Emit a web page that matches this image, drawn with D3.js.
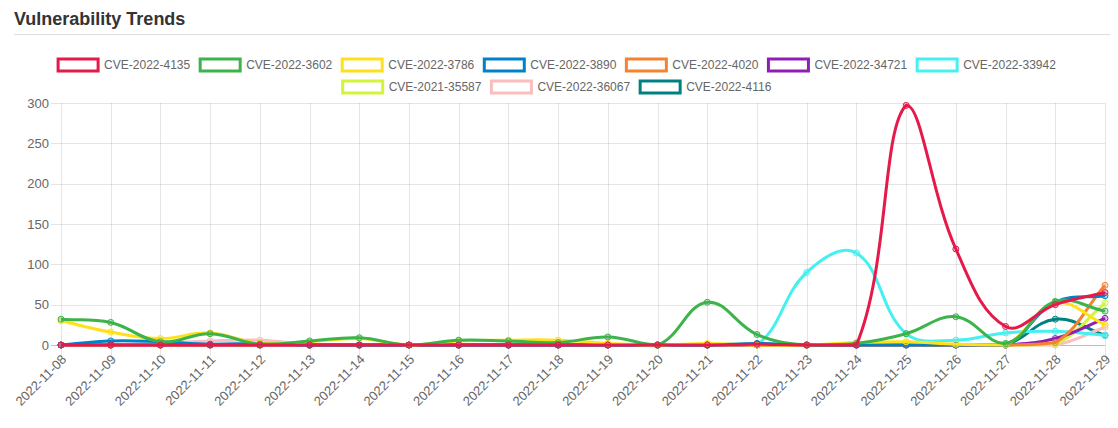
<!DOCTYPE html>
<html>
<head>
<meta charset="utf-8">
<script src="https://cdn.jsdelivr.net/npm/d3@7"></script>
<style>
  body { margin: 0; background: #fff; font-family: "Liberation Sans", Arial, Helvetica, sans-serif; }
</style>
</head>
<body>
<svg id="chart" width="1118" height="428"></svg>
<script>
const dates = ["2022-11-08","2022-11-09","2022-11-10","2022-11-11","2022-11-12","2022-11-13","2022-11-14",
  "2022-11-15","2022-11-16","2022-11-17","2022-11-18","2022-11-19","2022-11-20","2022-11-21",
  "2022-11-22","2022-11-23","2022-11-24","2022-11-25","2022-11-26","2022-11-27","2022-11-28","2022-11-29"];

const cveNames = ["CVE-2022-4135","CVE-2022-3602","CVE-2022-3786","CVE-2022-3890","CVE-2022-4020",
  "CVE-2022-34721","CVE-2022-33942","CVE-2021-35587","CVE-2022-36067","CVE-2022-4116"];

const cveColors = ["#e6194b","#3cb44b","#ffe119","#0082c8","#f58231","#911eb4","#46f0f0","#d2f53c","#fabebe","#008080"];

const cve4135  = [0,0,0,0,0,0,0,0,0,0,0,0,0,0,1,0,0,297,119,23,50,65];
const cve3602  = [32,28,4,14,1,5,9,0,6,5,3,10,0,53,13,0,2,14,35,2,54,42];
const cve3786  = [30,16,8,15,2,4,8,0,5,6,6,2,0,2,0,0,3,4,1,0,52,25];
const cve3890  = [0,5,4,1,2,0,0,0,0,0,0,0,0,0,2,0,0,0,0,0,53,61];
const cve4020  = [0,0,0,0,0,0,0,0,0,0,0,0,0,0,0,0,0,0,0,0,3,74];
const cve34721 = [0,0,0,0,0,0,0,0,0,0,0,0,0,0,0,0,0,0,0,0,8,33];
const cve33942 = [0,0,0,0,0,0,0,0,0,0,0,0,0,0,0,90,114,14,6,15,17,12];
const cve35587 = [0,0,0,0,0,0,0,0,0,0,0,0,0,0,0,0,0,0,0,0,1,52];
const cve36067 = [0,0,2,5,6,1,0,0,0,0,0,0,0,0,0,0,0,0,0,0,0,22];
const cve4116  = [0,0,0,0,0,0,0,0,0,0,0,0,0,0,0,0,0,0,0,0,32,12];

const seriesValues = [cve4135, cve3602, cve3786, cve3890, cve4020, cve34721, cve33942, cve35587, cve36067, cve4116];
const yTicks = [0, 50, 100, 150, 200, 250, 300];

const svg = d3.select("#chart");
const area = { left: 61, right: 1105, top: 103, bottom: 345 };

// title + divider
svg.append("text")
  .attr("x", 14).attr("y", 25)
  .attr("font-size", 18).attr("font-weight", "bold").attr("fill", "#333")
  .text("Vulnerability Trends");
svg.append("line")
  .attr("x1", 14).attr("x2", 1110).attr("y1", 34.5).attr("y2", 34.5)
  .attr("stroke", "#ddd");

const x = d3.scalePoint().domain(dates).range([area.left, area.right]);
const y = d3.scaleLinear().domain([0, 300]).range([area.bottom, area.top]);

// grid
const grid = svg.append("g");
grid.selectAll("line.v").data(dates).join("line")
  .attr("x1", (d) => Math.round(x(d)) + 0.5).attr("x2", (d) => Math.round(x(d)) + 0.5)
  .attr("y1", area.top).attr("y2", area.bottom + 11)
  .attr("stroke", "rgba(0,0,0,0.1)");
grid.selectAll("line.h").data(yTicks).join("line")
  .attr("x1", area.left - 10).attr("x2", area.right)
  .attr("y1", (d) => Math.round(y(d)) + 0.5).attr("y2", (d) => Math.round(y(d)) + 0.5)
  .attr("stroke", (d) => d === 0 ? "rgba(0,0,0,0.25)" : "rgba(0,0,0,0.1)");

// y labels
svg.append("g").selectAll("text").data(yTicks).join("text")
  .attr("x", area.left - 12).attr("y", (d) => y(d))
  .attr("dy", "0.35em").attr("text-anchor", "end")
  .attr("font-size", 13).attr("fill", "#666")
  .text((d) => d);

// x labels, rotated
svg.append("g").selectAll("text").data(dates).join("text")
  .attr("transform", (d) => `translate(${x(d) + 3},${area.bottom + 12}) rotate(-45)`)
  .attr("dy", "0.35em").attr("text-anchor", "end")
  .attr("font-size", 13).attr("fill", "#666")
  .text((d) => d);

// Chart.js style spline (tension 0.4, control points capped to the chart area)
const capX = (v) => Math.max(area.left, Math.min(area.right, v));
const capY = (v) => Math.max(area.top, Math.min(area.bottom, v));
function splinePath(pts, t) {
  const cps = pts.map((p, i) => {
    const prev = pts[i - 1] || p, next = pts[i + 1] || p;
    const d01 = Math.hypot(p.x - prev.x, p.y - prev.y);
    const d12 = Math.hypot(next.x - p.x, next.y - p.y);
    let s01 = d01 / (d01 + d12), s12 = d12 / (d01 + d12);
    if (isNaN(s01)) s01 = 0;
    if (isNaN(s12)) s12 = 0;
    const fa = t * s01, fb = t * s12;
    return {
      px: capX(p.x - fa * (next.x - prev.x)), py: capY(p.y - fa * (next.y - prev.y)),
      nx: capX(p.x + fb * (next.x - prev.x)), ny: capY(p.y + fb * (next.y - prev.y)),
    };
  });
  const path = d3.path();
  path.moveTo(pts[0].x, pts[0].y);
  for (let i = 1; i < pts.length; i++) {
    path.bezierCurveTo(cps[i - 1].nx, cps[i - 1].ny, cps[i].px, cps[i].py, pts[i].x, pts[i].y);
  }
  return path.toString();
}

// datasets drawn last-first so the first one sits on top
const order = d3.range(cveNames.length).reverse();
const plot = svg.append("g");
order.forEach((k) => {
  const pts = seriesValues[k].map((v, i) => ({ x: x(dates[i]), y: y(v) }));
  const g = plot.append("g");
  g.append("path")
    .attr("d", splinePath(pts, 0.4))
    .attr("fill", "none")
    .attr("stroke", cveColors[k])
    .attr("stroke-width", 3);
  g.selectAll("circle").data(pts).join("circle")
    .attr("cx", (d) => d.x).attr("cy", (d) => d.y).attr("r", 3)
    .attr("fill", d3.color(cveColors[k]).copy({ opacity: 0.25 }))
    .attr("stroke", cveColors[k]).attr("stroke-width", 1);
});

// legend, centred rows like Chart.js
const legend = svg.append("g");
const fontSize = 12, boxW = 40, pad = 10, maxW = 1050, centre = 557;
const items = cveNames.map((name, i) => {
  const t = legend.append("text").attr("font-size", fontSize).attr("fill", "#666").text(name);
  return { name, i, t, w: boxW + fontSize / 2 + t.node().getComputedTextLength() };
});
const rows = [[]];
let rowW = 0;
items.forEach((it) => {
  if (rowW + it.w + pad > maxW && rows[rows.length - 1].length) { rows.push([]); rowW = 0; }
  rows[rows.length - 1].push(it);
  rowW += it.w + pad;
});
rows.forEach((row, r) => {
  const total = d3.sum(row, (d) => d.w) + pad * (row.length - 1);
  let cx = centre - total / 2;
  const cy = 65 + r * 22;
  row.forEach((it) => {
    legend.append("rect")
      .attr("x", cx).attr("y", cy - 6).attr("width", boxW).attr("height", 12)
      .attr("fill", "#fff").attr("stroke", cveColors[it.i]).attr("stroke-width", 3);
    it.t.attr("x", cx + boxW + fontSize / 2).attr("y", cy).attr("dy", "0.35em");
    cx += it.w + pad;
  });
});
</script>
</body>
</html>
